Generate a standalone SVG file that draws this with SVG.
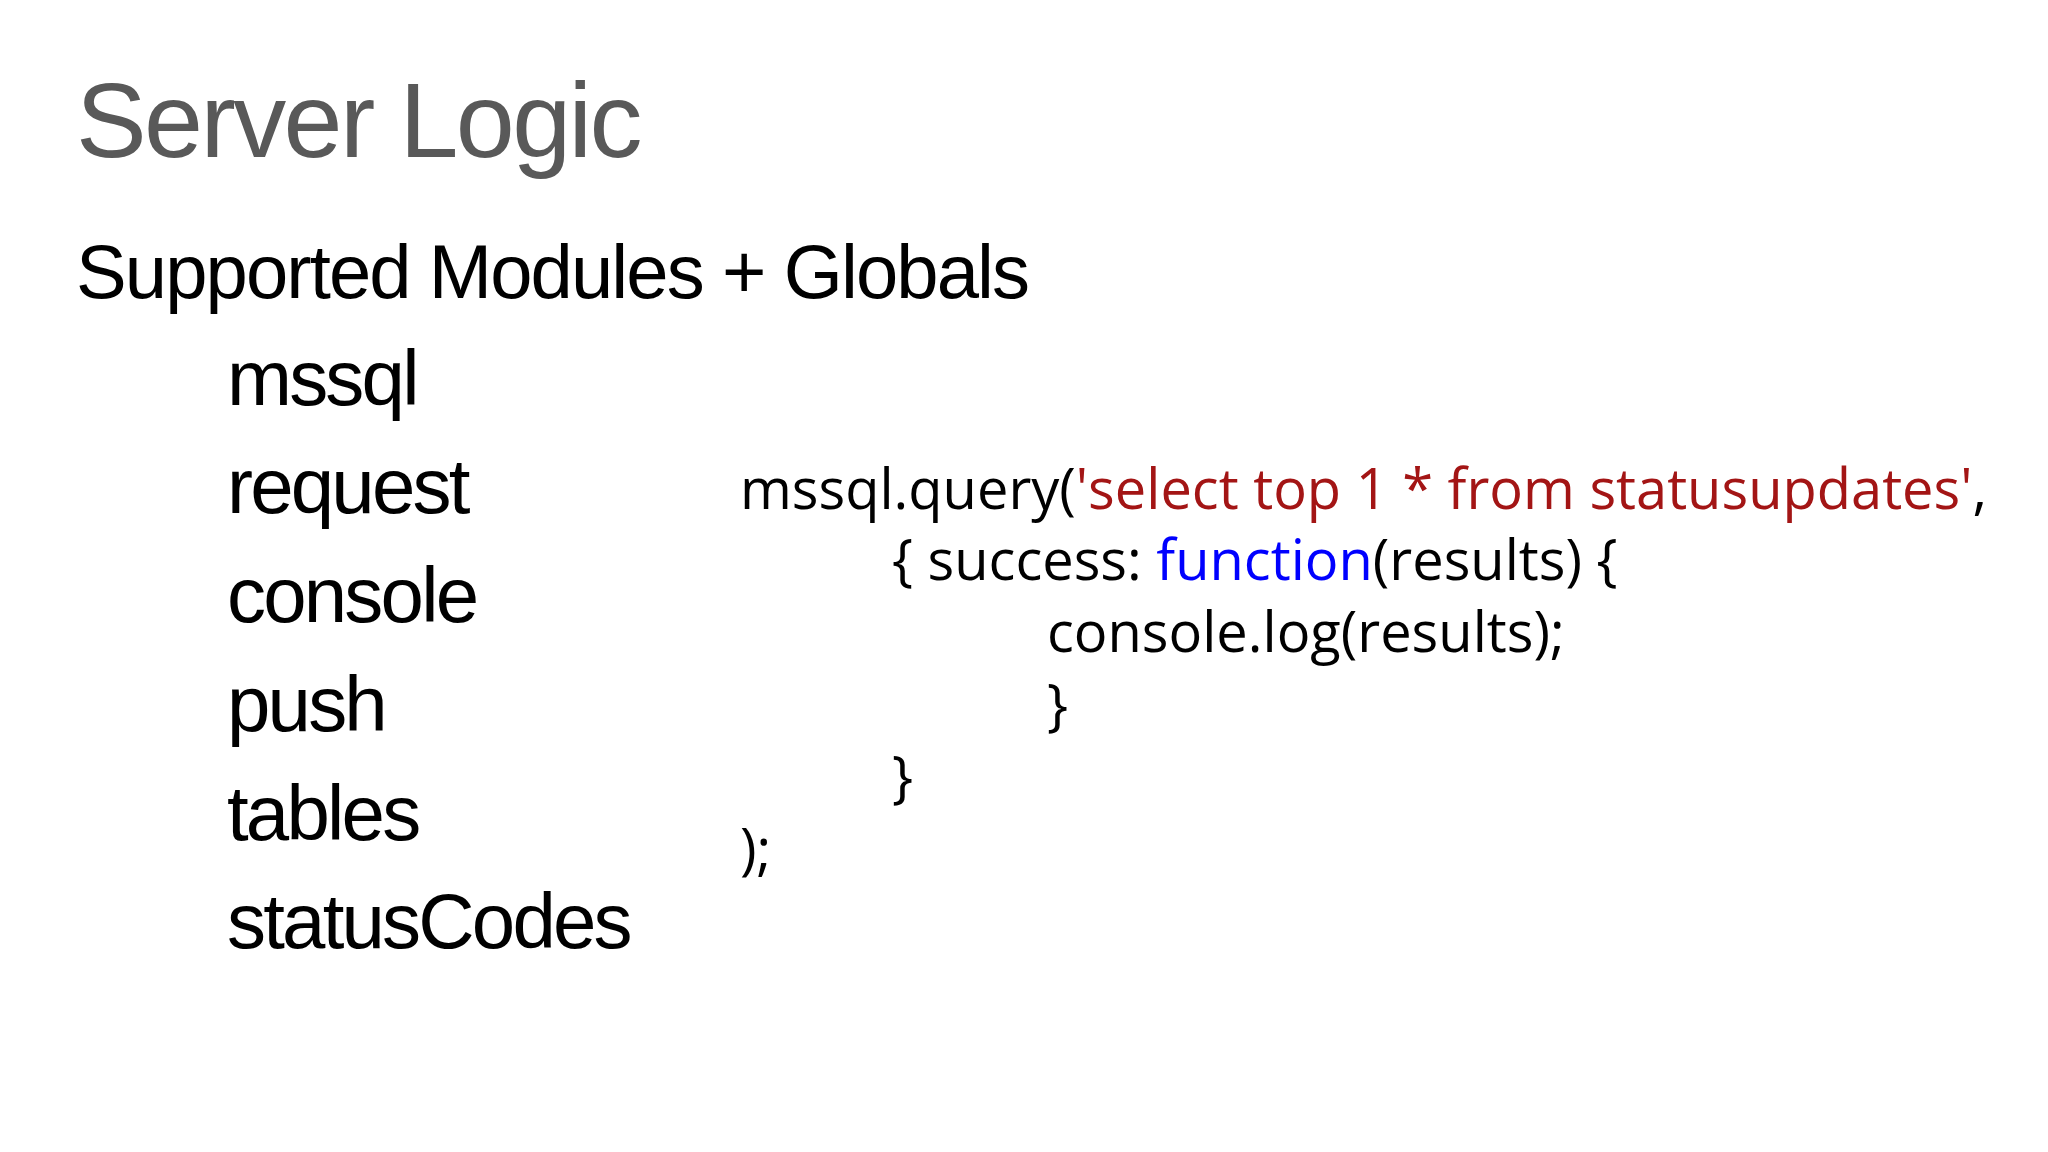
<svg xmlns="http://www.w3.org/2000/svg" width="2048" height="1152" viewBox="0 0 2048 1152">
<style>
.s{font-family:"Liberation Sans",Arial,sans-serif}
.item{font-size:78px;fill:#000;letter-spacing:-2.8px}
.code{font-family:"Open Sans","Noto Sans",sans-serif;font-size:56px;fill:#000}
.str{fill:#a31515}.kw{fill:#0000ff}
</style>
<rect width="2048" height="1152" fill="#ffffff"/>
<g id="title"><text class="s" x="76" y="157" font-size="106" fill="#595959" letter-spacing="-2.6">Server Logic</text></g>
<g id="subtitle"><text class="s" x="76" y="298" font-size="76" fill="#000" letter-spacing="-1.9">Supported Modules + Globals</text></g>
<g id="list">
<text class="s item" x="227" y="405">mssql</text>
<text class="s item" x="227" y="513">request</text>
<text class="s item" x="227" y="622">console</text>
<text class="s item" x="227" y="731">push</text>
<text class="s item" x="227" y="840">tables</text>
<text class="s item" x="227" y="948">statusCodes</text>
</g>
<g id="code">
<text class="code" x="740" y="509">mssql.query(<tspan class="str">'select top 1 * from statusupdates'</tspan>,</text>
<text class="code" x="892" y="580">{ success: <tspan class="kw">function</tspan>(results) {</text>
<text class="code" x="1047" y="652">console.log(results);</text>
<text class="code" x="1047" y="725">}</text>
<text class="code" x="892" y="797">}</text>
<text class="code" x="740" y="869">);</text>
</g>
</svg>
